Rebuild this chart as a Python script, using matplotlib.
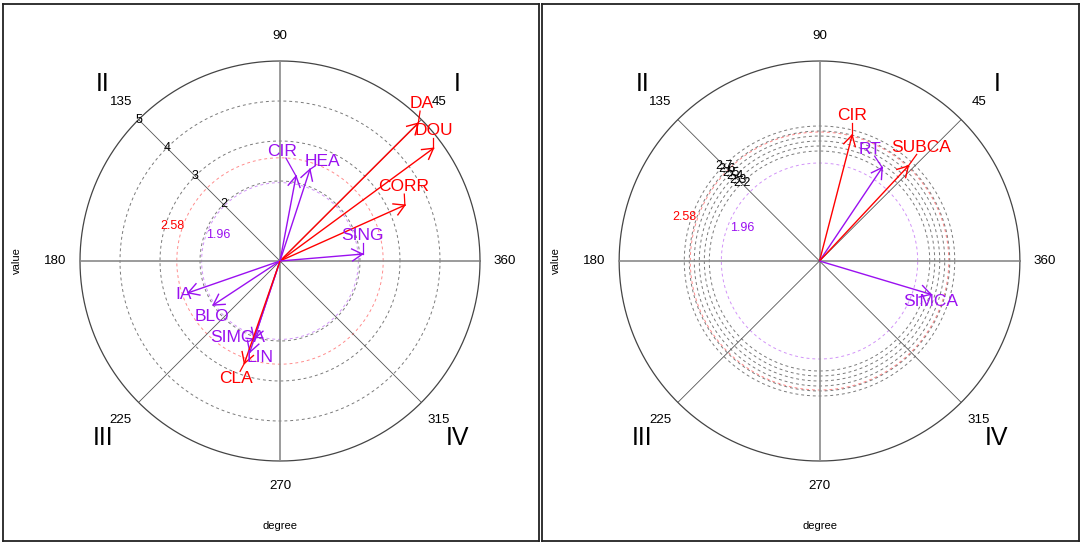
import numpy as np
import matplotlib.pyplot as plt

plt.rcParams['font.family'] = ['Liberation Sans', 'DejaVu Sans']

RED = '#FF0000'
PURPLE = '#9A10F0'

# z-value thresholds drawn as coloured dashed rings
thresholds = [1.96, 2.58]
threshold_colors = [PURPLE, RED]

# left panel
left_names = ["DA", "DOU", "CORR", "SING", "CIR", "HEA", "IA", "BLO", "SIMCA", "LIN", "CLA"]
left_values = [4.88, 4.76, 3.42, 2.07, 2.16, 2.41, 2.43, 2.00, 2.06, 2.40, 2.71]
left_angles = [44.9, 36.3, 24.1, 4.8, 79.3, 71.9, 199.1, 213.4, 251.6, 251.7, 250.8]
left_rings = [2, 3, 4]
left_ticks = [2, 3, 4, 5]
left_rmax = 5

# right panel
right_names = ["CIR", "RT", "SUBCA", "SIMCA"]
right_values = [2.60, 2.25, 2.60, 2.32]
right_angles = [75.5, 56.2, 47.0, 343.3]
right_rings = [2.2, 2.3, 2.4, 2.5, 2.6, 2.7]
right_ticks = ["2.2", "2.3", "2.4", "2.5", "2.6", "2.7"]
right_rmax = 4

degree_labels = ["360", "45", "90", "135", "180", "225", "270", "315"]
quadrants = ["I", "II", "III", "IV"]

# label offsets from arrow tips, in pixels (layout only)
left_label_off = [(3, 20), (0, 18), (-1, 19), (0, 19), (-14, 25), (12, 8),
                  (-5, -2), (-1, -11), (-16, 2), (10, -5), (-8, -15)]
right_label_off = [(0, 20), (-12, 18), (13, 18), (0, -7)]


def draw_panel(ax, names, values, angles, rings, ticks, rmax, label_off):
    px = rmax / 200.0  # value units per pixel, outer ring is 200 px
    ax.set_xlim(-277 * px, 259 * px)
    ax.set_ylim(-280 * px, 257 * px)
    ax.set_xticks([])
    ax.set_yticks([])
    for s in ax.spines.values():
        s.set_linewidth(1.3)
        s.set_color('#222222')

    t = np.linspace(0, 2 * np.pi, 721)
    for v in rings:
        ax.plot(v * np.cos(t), v * np.sin(t), color='#7a7a7a', lw=0.7, ls=(0, (3, 3)))
    for v, c in zip(thresholds, threshold_colors):
        ax.plot(v * np.cos(t), v * np.sin(t), color=c, lw=0.7, ls=(0, (3, 3)), alpha=0.45)
    ax.plot(rmax * np.cos(t), rmax * np.sin(t), color='#444444', lw=0.9)

    ax.plot([-rmax, rmax], [0, 0], color='#8a8a8a', lw=1.2)
    ax.plot([0, 0], [-rmax, rmax], color='#8a8a8a', lw=1.2)
    for a in [45, 135, 225, 315]:
        r = np.deg2rad(a)
        ax.plot([0, rmax * np.cos(r)], [0, rmax * np.sin(r)], color='#555555', lw=0.6)

    # degree labels and quadrant numerals
    for i, lab in enumerate(degree_labels):
        r = np.deg2rad(i * 45)
        ax.text(225 * px * np.cos(r), 225 * px * np.sin(r), lab, fontsize=9.6,
                ha='center', va='center')
    for lab, (sx, sy) in zip(quadrants, [(1, 1), (-1, 1), (-1, -1), (1, -1)]):
        ax.text(sx * 177 * px, sy * 177 * px, lab, fontsize=18, ha='center', va='center')

    # radial tick labels along the 135 degree line
    c135 = np.cos(np.deg2rad(135))
    for v in ticks:
        fv = float(v)
        ax.text(fv * c135, -fv * c135, str(v), fontsize=9, ha='center', va='center')

    ax.text(-2.7, 0.88, "2.58", color=RED, fontsize=9, ha='center', va='center')
    ax.text(-1.55, 0.66, "1.96", color=PURPLE, fontsize=9, ha='center', va='center')

    ax.text(-263 * px, 0, "value", fontsize=8, rotation=90, ha='center', va='center')
    ax.text(0, -265 * px, "degree", fontsize=8, ha='center', va='center')

    head = 12 * px
    for name, v, a, (ox, oy) in zip(names, values, angles, label_off):
        col = RED if v >= thresholds[1] else PURPLE
        r = np.deg2rad(a)
        tx, ty = v * np.cos(r), v * np.sin(r)
        ax.plot([0, tx], [0, ty], color=col, lw=1.0, solid_capstyle='butt')
        for d in (30, -30):
            b = r + np.pi + np.deg2rad(d)
            ax.plot([tx, tx + head * np.cos(b)], [ty, ty + head * np.sin(b)], color=col, lw=1.0)
        lx, ly = tx + ox * px, ty + oy * px
        dist = np.hypot(ox, oy)
        if dist > 12:
            f = 1 - 8 / dist
            ax.plot([tx, tx + ox * px * f], [ty, ty + oy * px * f], color=col, lw=0.9)
        ax.text(lx, ly, name, color=col, fontsize=12.5, ha='center', va='center')


fig = plt.figure(figsize=(10.84, 5.47), dpi=100)
ax1 = fig.add_axes([3 / 1084, 6 / 547, 536 / 1084, 537 / 547])
ax2 = fig.add_axes([542 / 1084, 6 / 547, 537 / 1084, 537 / 547])

draw_panel(ax1, left_names, left_values, left_angles, left_rings, left_ticks,
           left_rmax, left_label_off)
draw_panel(ax2, right_names, right_values, right_angles, right_rings, right_ticks,
           right_rmax, right_label_off)

fig.savefig("out.png", dpi=100)
